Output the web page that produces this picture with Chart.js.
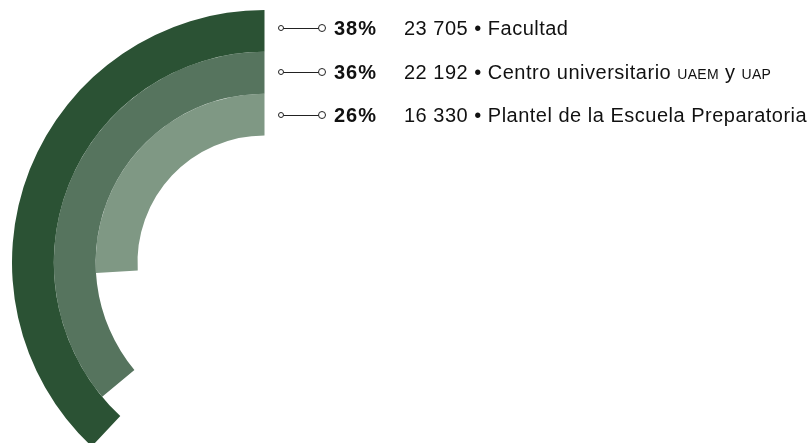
<!DOCTYPE html>
<html>
<head>
  <title>Matrícula por tipo de espacio</title>
  <script src="https://cdn.jsdelivr.net/npm/chart.js"></script>
  <style>
    html, body { margin: 0; padding: 0; background: #fff; overflow: hidden; }
    body { width: 811px; height: 443px; position: relative; font-family: "Liberation Sans", Arial, Helvetica, sans-serif; color: #111; }
    #ringChart { position: absolute; left: 12px; top: 10px; }
    .row { position: absolute; left: 0; height: 0; }
    .link { position: absolute; left: 281px; top: 0; width: 40px; border-top: 1px solid #222; }
    .dot { position: absolute; top: 0; border: 1px solid #222; border-radius: 50%; background: #fff; box-sizing: border-box; }
    .dot.a { left: 278px; width: 6px; height: 6px; margin-top: -3px; }
    .dot.b { left: 318px; width: 8px; height: 8px; margin-top: -4px; }
    .pct { position: absolute; left: 334px; top: -12px; font-size: 20px; font-weight: bold; letter-spacing: 1px; line-height: 24px; white-space: nowrap; }
    .txt { position: absolute; left: 404px; top: -12px; font-size: 20px; letter-spacing: 0.5px; line-height: 24px; white-space: nowrap; }
    .sc { font-size: 14px; letter-spacing: 0.3px; }
  </style>
</head>
<body>
  <canvas id="ringChart" width="505" height="505"></canvas>
  <div id="labels"></div>
  <script>
    // data
    const categories = ['Facultad', 'Centro universitario UAEM y UAP', 'Plantel de la Escuela Preparatoria'];
    const counts = [23705, 22192, 16330];
    const percents = [38, 36, 26];
    const countLabels = ['23 705', '22 192', '16 330'];
    const colors = ['#2b5234', '#56745e', '#7f9884'];
    const rowY = [28, 71.5, 115];

    // each ring is its share of a full turn, ending at 12 o'clock
    const datasets = percents.map((p, i) => ({
      label: categories[i],
      data: [100 - p, p],
      backgroundColor: ['rgba(0,0,0,0)', colors[i]],
      borderWidth: 0,
      hoverOffset: 0
    }));

    const ctx = document.getElementById('ringChart').getContext('2d');
    const ringChart = new Chart(ctx, {
      type: 'doughnut',
      data: { labels: ['resto', 'valor'], datasets: datasets },
      options: {
        responsive: false,
        animation: false,
        cutout: '50.3%',
        layout: { padding: 0 },
        plugins: { legend: { display: false }, tooltip: { enabled: false } }
      }
    });

    // labels on the right
    const box = document.getElementById('labels');
    categories.forEach((cat, i) => {
      const row = document.createElement('div');
      row.className = 'row';
      row.style.top = rowY[i] + 'px';
      const name = cat.replace(/\b(UAEM|UAP)\b/g, '<span class="sc">$1</span>');
      row.innerHTML =
        '<div class="link"></div><div class="dot a"></div><div class="dot b"></div>' +
        '<div class="pct">' + percents[i] + '%</div>' +
        '<div class="txt">' + countLabels[i] + ' \u2022 ' + name + '</div>';
      box.appendChild(row);
    });
  </script>
</body>
</html>
